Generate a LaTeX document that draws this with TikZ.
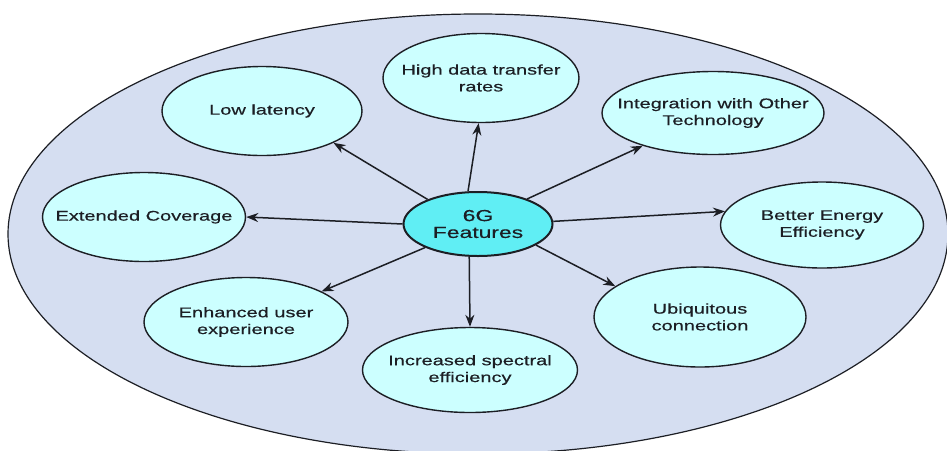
\documentclass[tikz,border=0pt]{standalone}
\usepackage{fontspec}
\setmainfont{Liberation Sans}[FakeStretch=1.43,FakeBold=0.4]
\usetikzlibrary{shapes.geometric,arrows.meta}
\definecolor{areablue}{RGB}{213,222,241}
\definecolor{featcyan}{RGB}{204,255,255}
\definecolor{corecyan}{RGB}{96,238,244}
\definecolor{inkgray}{RGB}{28,30,36}
\begin{document}
\begin{tikzpicture}[x=0.5pt,y=-0.5pt]
                        \tikzset{Feature/.style={%
                                shape=ellipse,%
                                draw=inkgray,%
                                fill=featcyan,%
                                line width=0.7pt,%
                                inner xsep=-15pt,%
                                inner ysep=0pt,%
                                align=center,%
                                text=inkgray,%
                                font=\fontsize{7}{8.4}\selectfont,%
                            },
                            Core/.style={%
                                Feature,%
                                fill=corecyan,%
                                line width=1pt,%
                                inner xsep=0pt,%
                                font=\fontsize{8}{8.4}\selectfont,%
                            },
                            Link/.style={%
                                draw=inkgray,%
                                line width=0.75pt,%
                                -{Stealth[length=6pt,width=4.5pt]},%
                            }}

                            \useasboundingbox (0,0) rectangle (947,450);
                            \draw[draw=inkgray, fill=areablue, line width=0.6pt] (478,234) ellipse [x radius=470, y radius=220];

                            \node[Core, minimum width=74.5pt, minimum height=32pt] (core) at (478,224) {6G\\Features};
                            \node[Feature, minimum width=100pt, minimum height=44.5pt] (lat) at (262,111) {Low latency};
                            \node[Feature, minimum width=98pt, minimum height=44.5pt] (rate) at (481,78) {High data transfer\\rates};
                            \node[Feature, minimum width=111pt, minimum height=41.5pt] (integ) at (713,113) {Integration with Other\\Technology};
                            \node[Feature, minimum width=101.5pt, minimum height=44.5pt] (cov) at (144,217) {Extended Coverage};
                            \node[Feature, minimum width=101.5pt, minimum height=43pt] (energy) at (822,225) {Better Energy\\Efficiency};
                            \node[Feature, minimum width=102pt, minimum height=44.5pt] (user) at (246,322) {Enhanced user\\experience};
                            \node[Feature, minimum width=107.5pt, minimum height=42.5pt] (spec) at (470,370) {Increased spectral\\efficiency};
                            \node[Feature, minimum width=106pt, minimum height=50pt] (ubiq) at (700,317) {Ubiquitous\\connection};

                            \path (core.154) edge[Link] (lat.-24);
                            \path (core.107) edge[Link] (rate.-93);
                            \path (core.27) edge[Link] (integ.205);
                            \path (core.2) edge[Link] (energy.172);
                            \path (core.-20) edge[Link] (ubiq.160);
                            \path (core.-105) edge[Link] (spec.90);
                            \path (core.204) edge[Link] (user.22);
                            \path (core.west) edge[Link] (cov.east);
\end{tikzpicture}
\end{document}
